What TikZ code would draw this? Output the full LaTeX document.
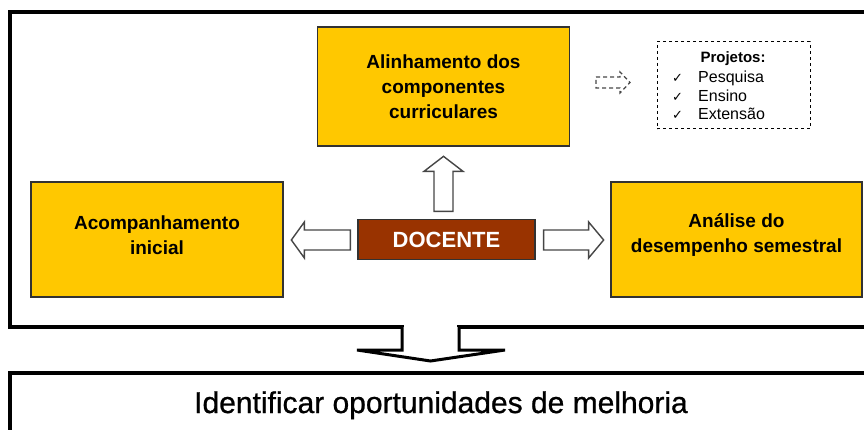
\documentclass[tikz,border=0pt]{standalone}
\usepackage{fontspec}
\setmainfont{Liberation Sans}
\newfontfamily\dejavu{DejaVu Sans}
\usetikzlibrary{calc}
\definecolor{gold}{RGB}{255,200,0}
\definecolor{brick}{RGB}{153,51,0}
\definecolor{edge}{RGB}{50,50,50}
\definecolor{arrowedge}{RGB}{70,70,70}
\begin{document}
\begin{tikzpicture}[x=1pt,y=-1pt,
  goldbox/.style={draw=edge,line width=1.3pt,fill=gold,inner sep=0pt},
  goldtext/.style={inner sep=0pt,align=center,font=\fontsize{19}{25}\selectfont\bfseries},
  docbox/.style={draw=edge,line width=1.3pt,fill=brick,text=white,inner sep=0pt,
    font=\fontsize{22}{25}\selectfont\bfseries},
  blockarrow/.style={draw=arrowedge,fill=white,line width=1.4pt,line join=miter},
  frameline/.style={line width=3.5pt,line cap=rect},
  projtext/.style={anchor=base west,inner sep=0pt,font=\fontsize{16}{18}\selectfont},
  checkmark/.style={anchor=base west,inner sep=0pt,font=\dejavu\fontsize{13}{14}\selectfont}]
\useasboundingbox (0,0) rectangle (864,430);
\clip (0,0) rectangle (864,430);

% outer frame
\draw[frameline] (402,327) -- (10,327) -- (10,12) -- (880,12);
\draw[frameline] (459,327) -- (880,327);
\draw[gray!45,line width=0.8pt] (402,327) -- (459,327);

% down arrow
\draw[line width=3pt,fill=white,line join=miter] (402,327) -- (402,350) -- (357,350) -- (430.5,361) -- (505,350) -- (459,350) -- (459,327);

% bottom box
\draw[frameline] (10,445) -- (10,373) -- (880,373);
\node[anchor=base,inner sep=0pt,font=\fontsize{30}{32}\selectfont\addfontfeature{FakeBold=0.8}] (ident) at (441,413) {Identificar oportunidades de melhoria};

% boxes
\node[goldbox,minimum width=252pt,minimum height=119pt] (align) at (443.5,86.5) {};
\node[goldtext] (alignt) at (443.5,87) {Alinhamento dos\\componentes\\curriculares};
\node[goldbox,minimum width=252pt,minimum height=115pt] (acomp) at (157,239.5) {};
\node[goldtext] (acompt) at (157,235) {Acompanhamento\\inicial};
\node[goldbox,minimum width=251pt,minimum height=115pt] (analise) at (736.5,239.5) {};
\node[goldtext] (analiset) at (736.5,235) {An\'alise do\\desempenho semestral};
\node[docbox,minimum width=177pt,minimum height=40pt] (docente) at (446.5,239.5) {DOCENTE};

% block arrows
\draw[blockarrow] ($(docente.north)+(-12.5,-7.5)$) -- ++(0,-40) -- ++(-10,0) -- ++(19.5,-15) -- ++(19.5,15) -- ++(-10,0) -- ++(0,40) -- cycle;
\draw[blockarrow] ($(docente.west)+(-7,-9.5)$) -- ++(-46,0) -- ++(0,-8) -- ++(-13,18) -- ++(13,18) -- ++(0,-8) -- ++(46,0) -- cycle;
\draw[blockarrow] ($(docente.east)+(8,-9.5)$) -- ++(45,0) -- ++(0,-8) -- ++(15,18) -- ++(-15,18) -- ++(0,-8) -- ++(-45,0) -- cycle;

% projetos
\node[draw=black,dashed,line width=1pt,minimum width=153pt,minimum height=87pt,inner sep=0pt] (proj) at (733.5,85.5) {};
\node[anchor=base,inner sep=0pt,font=\fontsize{15}{18}\selectfont\bfseries] (projt) at (733,63) {Projetos:};
\node[checkmark] (c1) at (672,83) {✓};
\node[checkmark] (c2) at (672,102) {✓};
\node[checkmark] (c3) at (672,120) {✓};
\node[projtext] (p1) at (698,83) {Pesquisa};
\node[projtext] (p2) at (698,102) {Ensino};
\node[projtext] (p3) at (698,120) {Extens\~ao};

% small dashed arrow
\draw[draw=arrowedge,dashed,line width=1.2pt,dash pattern=on 4pt off 3pt] (596,77) -- (620,77) -- (620,72) -- (630,82.5) -- (620,93) -- (620,88) -- (596,88) -- cycle;
\end{tikzpicture}
\end{document}
